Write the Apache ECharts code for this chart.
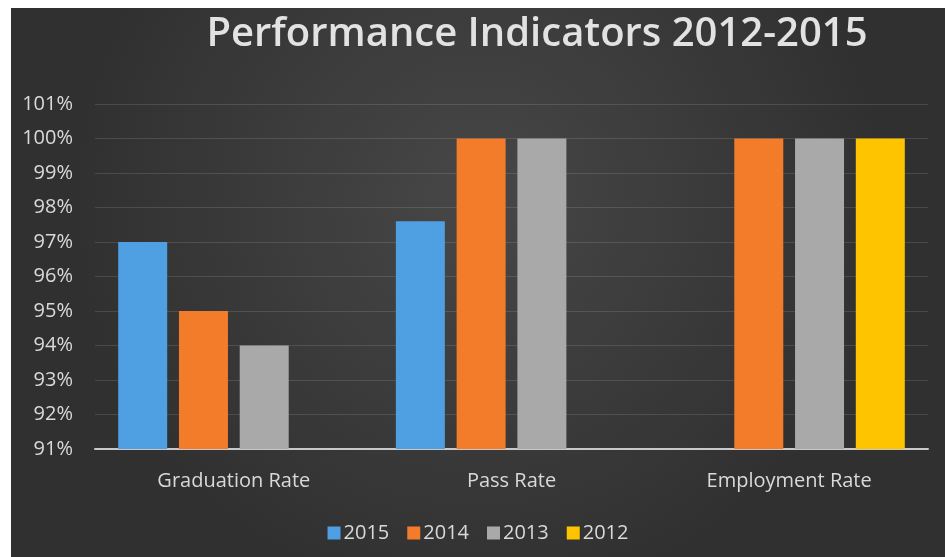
<!DOCTYPE html>
<html>
<head>
<meta charset="utf-8">
<script src="https://cdn.jsdelivr.net/npm/echarts@6/dist/echarts.min.js"></script>
<style>
  html, body { margin: 0; padding: 0; background: #ffffff; }
  #chart { position: absolute; left: 11px; top: 8px; width: 934px; height: 549px; }
</style>
</head>
<body>
<div id="chart"></div>
<script>
// 数据
var categories = ["Graduation Rate", "Pass Rate", "Employment Rate"];
var seriesNames = ["2015", "2014", "2013", "2012"];
var data2015 = [97, 97.6, null];
var data2014 = [95, 100, 100];
var data2013 = [94, 100, 100];
var data2012 = [null, null, 100];
var yTicks = [91, 92, 93, 94, 95, 96, 97, 98, 99, 100, 101];

var colors = ["#4f9fe3", "#f27c2a", "#a9a9a9", "#ffc400"];

var myChart = echarts.init(document.getElementById("chart"));

function makeBar(name, values, color) {
  return {
    name: name,
    type: "bar",
    barWidth: 49,
    barGap: "24%",
    itemStyle: { color: color },
    data: values
  };
}

var option = {
  backgroundColor: {
    type: "radial",
    x: 0.5, y: 0.35, r: 0.75,
    colorStops: [
      { offset: 0, color: "#474747" },
      { offset: 1, color: "#303030" }
    ]
  },
  animation: false,
  title: {
    text: "Performance Indicators 2012-2015",
    left: 521,
    textAlign: "center",
    top: 2,
    textStyle: {
      color: "#e2e2e2",
      fontSize: 40,
      fontWeight: 600,
      fontFamily: "Open Sans"
    }
  },
  legend: {
    data: seriesNames,
    bottom: 9,
    left: "center",
    itemWidth: 13,
    itemHeight: 13,
    itemGap: 18,
    icon: "rect",
    textStyle: { color: "#d9d9d9", fontSize: 20, fontFamily: "Open Sans", padding: [0, 0, 0, -2] }
  },
  grid: {
    left: 84,
    right: 17,
    top: 96,
    bottom: 108,
    containLabel: false
  },
  xAxis: {
    type: "category",
    data: categories,
    axisTick: { show: false },
    axisLine: { lineStyle: { color: "#c8c8c8", width: 2 } },
    axisLabel: { color: "#d9d9d9", fontSize: 20, margin: 22, fontFamily: "Open Sans" }
  },
  yAxis: {
    type: "value",
    min: yTicks[0],
    max: yTicks[yTicks.length - 1],
    interval: 1,
    axisLine: { show: false },
    axisTick: { show: false },
    splitLine: { lineStyle: { color: "rgba(255,255,255,0.12)", width: 1 } },
    axisLabel: {
      color: "#d9d9d9",
      fontSize: 20,
      margin: 22,
      fontFamily: "Open Sans",
      formatter: "{value}%"
    }
  },
  series: [
    makeBar(seriesNames[0], data2015, colors[0]),
    makeBar(seriesNames[1], data2014, colors[1]),
    makeBar(seriesNames[2], data2013, colors[2]),
    makeBar(seriesNames[3], data2012, colors[3])
  ]
};

myChart.setOption(option);
</script>
</body>
</html>
